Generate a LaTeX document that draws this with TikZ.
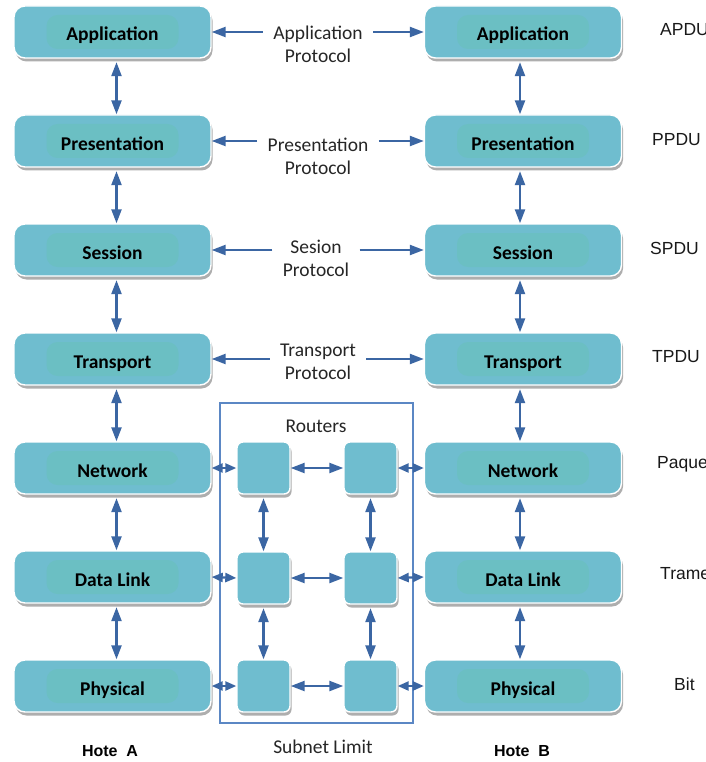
\documentclass[tikz,border=0pt]{standalone}
\usepackage{fontspec}
\setmainfont{Carlito}
\newfontfamily\arialfont{Liberation Sans}
\usetikzlibrary{arrows.meta,shadows}

\definecolor{boxfill}{HTML}{6FBDCF}
\definecolor{innerfill}{HTML}{6BBFC3}
\definecolor{arrowcol}{HTML}{3B66A3}
\definecolor{framecol}{HTML}{5B87C4}

\tikzset{
  layerbox/.style={draw=white, line width=1.4pt, fill=boxfill, rounded corners=11pt,
    minimum width=197pt, minimum height=52pt, inner sep=0pt,
    text height=20pt, text depth=2pt,
    font=\fontsize{19.5}{22}\selectfont\bfseries,
    drop shadow={shadow xshift=1.5pt, shadow yshift=-3.5pt, opacity=0.45, fill=black!70},
    path picture={\fill[innerfill]
      ([xshift=-66pt,yshift=-17pt]path picture bounding box.center) rectangle
      ([xshift=66pt,yshift=17pt]path picture bounding box.center);}},
  router/.style={draw=white, line width=1.4pt, fill=boxfill, rounded corners=6pt,
    minimum width=53pt, minimum height=52pt, inner sep=0pt,
    drop shadow={shadow xshift=1.5pt, shadow yshift=-3.5pt, opacity=0.45, fill=black!70}},
  bighead/.tip={Triangle[length=14pt,width=10pt]},
  smallhead/.tip={Triangle[length=11pt,width=9pt]},
  link/.style={draw=arrowcol, line width=2.3pt, bighead-bighead},
  shortlink/.style={draw=arrowcol, line width=2.3pt, smallhead-smallhead},
  oneway/.style={draw=arrowcol, line width=2.3pt, -bighead},
  plaintext/.style={font=\fontsize{19.5}{23}\selectfont, text=black!85},
  protolabel/.style={plaintext, align=center},
  unitlabel/.style={anchor=west, inner sep=0pt, font=\arialfont\fontsize{17.5}{20}\selectfont, text=black!90},
  hostlabel/.style={font=\arialfont\fontsize{16}{18}\selectfont\bfseries},
}

\begin{document}
\begin{tikzpicture}[x=1pt, y=-1pt]
\useasboundingbox[fill=white] (0,0) rectangle (705,762);

% subnet boundary
\draw[framecol, line width=1.3pt] (220,403) rectangle (413,723);
\node[plaintext] (routers) at (316,426) {Routers};
\node[plaintext] (subnet) at (323,747) {Subnet Limit};

% host A layers
\node[layerbox] (a1) at (112.5,32)  {Application};
\node[layerbox] (a2) at (112.5,141) {Presentation};
\node[layerbox] (a3) at (112.5,250) {Session};
\node[layerbox] (a4) at (112.5,359) {Transport};
\node[layerbox] (a5) at (112.5,468) {Network};
\node[layerbox] (a6) at (112.5,577) {Data Link};
\node[layerbox] (a7) at (112.5,686) {Physical};

% host B layers
\node[layerbox] (b1) at (523,32)  {Application};
\node[layerbox] (b2) at (523,141) {Presentation};
\node[layerbox] (b3) at (523,250) {Session};
\node[layerbox] (b4) at (523,359) {Transport};
\node[layerbox] (b5) at (523,468) {Network};
\node[layerbox] (b6) at (523,577) {Data Link};
\node[layerbox] (b7) at (523,686) {Physical};

% routers
\node[router] (r11) at (263.5,468) {};
\node[router] (r12) at (370.5,468) {};
\node[router] (r21) at (263.5,578) {};
\node[router] (r22) at (370.5,578) {};
\node[router] (r31) at (263.5,686) {};
\node[router] (r32) at (370.5,686) {};

% peer protocol labels
\node[protolabel] (p1) at (318,44)  {Application\\Protocol};
\node[protolabel] (p2) at (318,156) {Presentation\\Protocol};
\node[protolabel] (p3) at (316,258) {Sesion\\Protocol};
\node[protolabel] (p4) at (318,362) {Transport\\Protocol};

\foreach \i in {1,...,4}{
  \draw[oneway] (p\i.west |- a\i.east) ++(-7,0) coordinate (pl\i) -- (a\i.east);
  \draw[oneway] (p\i.east |- b\i.west) ++(7,0) coordinate (pr\i) -- (b\i.west);
}

% vertical links inside each host
\foreach \i/\j in {1/2,2/3,3/4,4/5,5/6,6/7}{
  \draw[link] ([xshift=4pt,yshift=-3.5pt]a\i.south) -- ([xshift=4pt]a\j.north);
  \draw[link] ([xshift=-3pt,yshift=-3.5pt]b\i.south) -- ([xshift=-3pt]b\j.north);
}

% links through the subnet
\foreach \k in {1,2,3}{
  \draw[link] (r\k1.east) -- (r\k2.west);
}
\draw[shortlink] (a5.east) -- (r11.west);
\draw[shortlink] (a6.east) -- (r21.west);
\draw[shortlink] (a7.east) -- (r31.west);
\draw[shortlink] (r12.east) -- (b5.west);
\draw[shortlink] (r22.east) -- (b6.west);
\draw[shortlink] (r32.east) -- (b7.west);
\draw[link] ([yshift=-3.5pt]r11.south) -- (r21.north);
\draw[link] ([yshift=-3.5pt]r21.south) -- (r31.north);
\draw[link] ([yshift=-3.5pt]r12.south) -- (r22.north);
\draw[link] ([yshift=-3.5pt]r22.south) -- (r32.north);

% data units
\node[unitlabel] (u1) at (660,30)  {APDU};
\node[unitlabel] (u2) at (652,140) {PPDU};
\node[unitlabel] (u3) at (650,248) {SPDU};
\node[unitlabel] (u4) at (652,357) {TPDU};
\node[unitlabel] (u5) at (657,464) {Paquet};
\node[unitlabel] (u6) at (660,574) {Trame};
\node[unitlabel] (u7) at (674,684) {Bit};

% host names
\node[hostlabel] (ha) at (110,751) {Hote\ \ A};
\node[hostlabel] (hb) at (522,751) {Hote\ \ B};
\end{tikzpicture}
\end{document}
